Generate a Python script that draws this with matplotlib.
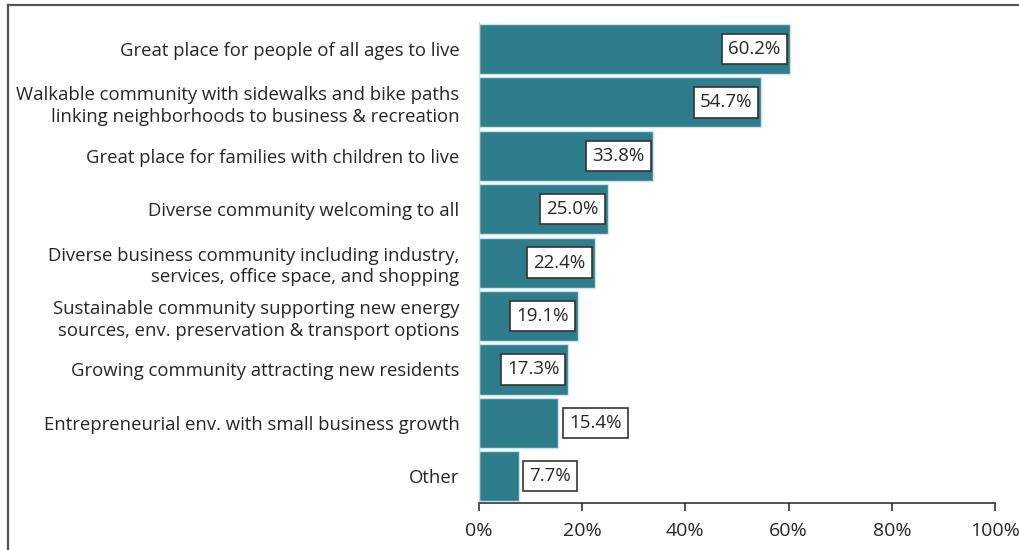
import matplotlib.pyplot as plt
from matplotlib.lines import Line2D
from matplotlib.ticker import PercentFormatter

# Survey responses: desired community characteristics
categories = [
    "Great place for people of all ages to live",
    "Walkable community with sidewalks and bike paths\nlinking neighborhoods to business & recreation",
    "Great place for families with children to live",
    "Diverse community welcoming to all",
    "Diverse business community including industry,\nservices, office space, and shopping",
    "Sustainable community supporting new energy\nsources, env. preservation & transport options",
    "Growing community attracting new residents",
    "Entrepreneurial env. with small business growth",
    "Other",
]
shares = [60.2, 54.7, 33.8, 25.0, 22.4, 19.1, 17.3, 15.4, 7.7]

bar_color = "#2e7d8c"
text_color = "#262626"

plt.rcParams["font.family"] = ["Open Sans", "DejaVu Sans"]

fig = plt.figure(figsize=(10.19, 5.5), dpi=100)
ax = fig.add_axes([0.470, 0.0855, 0.5065, 0.874])

y = list(range(len(categories)))
ax.barh(y, shares, height=0.94, color=bar_color, edgecolor="#cfe3e7", linewidth=1.0)

# value labels in boxes: inside the bar end if there is room, outside otherwise
box = dict(boxstyle="square,pad=0.33", facecolor="white", edgecolor="#333333", linewidth=1.2)
for yi, v in zip(y, shares):
    if v >= 17:
        ax.annotate(f"{v:.1f}%", (v, yi), xytext=(-6.5, 0), textcoords="offset points",
                    ha="right", va="center", fontsize=13.5, color=text_color, bbox=box)
    else:
        ax.annotate(f"{v:.1f}%", (v, yi), xytext=(7.5, 0), textcoords="offset points",
                    ha="left", va="center", fontsize=13.5, color=text_color, bbox=box)

ax.set_xlim(0, 100)
ax.set_ylim(len(categories) - 0.5, -0.5)
ax.set_yticks(y)
ax.set_yticklabels(categories, fontsize=13.3, color=text_color, linespacing=1.25)
ax.tick_params(axis="y", length=0, pad=14)
ax.set_xticks([0, 20, 40, 60, 80, 100])
ax.xaxis.set_major_formatter(PercentFormatter(decimals=0))
ax.tick_params(axis="x", direction="out", length=6, width=1.2, color="#333333",
               labelsize=14, labelcolor=text_color, pad=8)

for side in ["top", "right"]:
    ax.spines[side].set_visible(False)
ax.spines["bottom"].set_color("#333333")
ax.spines["bottom"].set_linewidth(1.2)
ax.spines["left"].set_color("#d9d9d9")
ax.spines["left"].set_linewidth(1.0)

# outer frame along top and left edge
fig.add_artist(Line2D([8 / 1019, 8 / 1019], [0, 1 - 5 / 550], color="#555555", lw=1.6))
fig.add_artist(Line2D([8 / 1019, 1], [1 - 5 / 550, 1 - 5 / 550], color="#555555", lw=1.6))

fig.savefig("out.png", dpi=100)
